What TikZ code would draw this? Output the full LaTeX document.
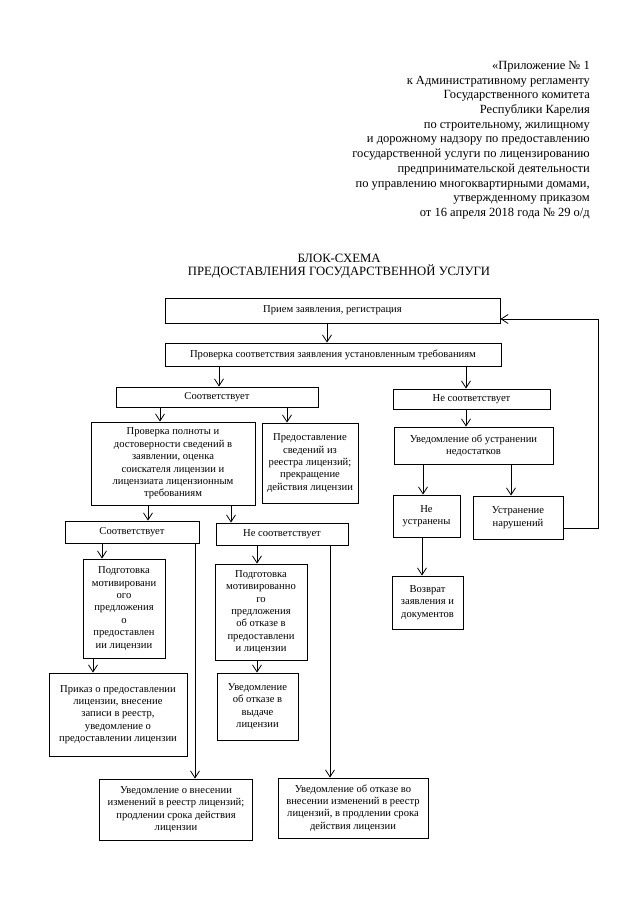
\documentclass[tikz,border=0pt]{standalone}
\usepackage{fontspec}
\setmainfont{Liberation Serif}
\usetikzlibrary{arrows.meta}
\begin{document}
\begin{tikzpicture}[x=1pt,y=-1pt,
    box/.style={draw, line width=0.85pt, align=center, inner sep=1pt,
      font=\fontsize{10.6}{12.4}\selectfont},
    arr/.style={line width=0.8pt, -{Straight Barb[length=7pt,width=9pt]}}]
			\useasboundingbox (0,0) rectangle (639,905);
			
			\node[anchor=north east, align=right, inner sep=0pt,
			  font=\fontsize{12.5}{14.7}\selectfont] (head) at (590,61)
			  {«Приложение № 1\\к Административному регламенту\\Государственного комитета\\Республики Карелия\\по строительному, жилищному\\и дорожному надзору по предоставлению\\государственной услуги по лицензированию\\предпринимательской деятельности\\по управлению многоквартирными домами,\\утвержденному приказом\\от 16 апреля 2018 года № 29 о/д};
			\node[align=center, inner sep=0pt, font=\fontsize{12.7}{13.5}\selectfont] (title) at (339,266)
			  {БЛОК-СХЕМА\\ПРЕДОСТАВЛЕНИЯ ГОСУДАРСТВЕННОЙ УСЛУГИ};
			
			\node[box, minimum width=335pt, minimum height=25pt] (recv) at (332.5,310.5) {Прием заявления, регистрация};
			\node[box, minimum width=336pt, minimum height=23pt] (check) at (333,354.5) {Проверка соответствия заявления установленным требованиям};
			\node[box, minimum width=202pt, minimum height=20pt] (yes1) at (217,397) {Соответствует};
			\node[box, minimum width=157pt, minimum height=20pt] (no1) at (471.5,399) {Не соответствует};
			\node[box, minimum width=164pt, minimum height=83pt] (full) at (173,463.5) {Проверка полноты и\\достоверности сведений в\\заявлении, оценка\\соискателя лицензии и\\лицензиата лицензионным\\требованиям};
			\node[box, minimum width=96pt, minimum height=80pt] (info) at (310,463) {Предоставление\\сведений из\\реестра лицензий;\\прекращение\\действия лицензии};
			\node[box, minimum width=159pt, minimum height=37pt] (notice) at (473.5,445.5) {Уведомление об устранении\\недостатков};
			\node[box, minimum width=67pt, minimum height=42pt] (notfixed) at (426.5,516) {Не\\устранены};
			\node[box, minimum width=90pt, minimum height=43pt] (fixed) at (518,517.5) {Устранение\\нарушений};
			\node[box, minimum width=71pt, minimum height=53pt] (back) at (427.5,602.5) {Возврат\\заявления и\\документов};
			\node[box, minimum width=134pt, minimum height=22pt] (yes2) at (132,532) {Соответствует};
			\node[box, minimum width=132pt, minimum height=22pt] (no2) at (282,534) {Не соответствует};
			\node[box, minimum width=82pt, minimum height=99pt] (prepyes) at (124,608.5) {Подготовка\\мотивировани\\ого\\предложения\\о\\предоставлен\\ии лицензии};
			\node[box, minimum width=138pt, minimum height=83pt] (order) at (118,714.5) {Приказ о предоставлении\\лицензии, внесение\\записи в реестр,\\уведомление о\\предоставлении лицензии};
			\node[box, minimum width=92pt, minimum height=96pt] (prepno) at (261,612) {Подготовка\\мотивированно\\го\\предложения\\об отказе в\\предоставлени\\и лицензии};
			\node[box, minimum width=81pt, minimum height=67pt] (refuse) at (257.5,706.5) {Уведомление\\об отказе в\\выдаче\\лицензии};
			\node[box, minimum width=153pt, minimum height=61pt] (changed) at (176,809.5) {Уведомление о внесении\\изменений в реестр лицензий;\\продлении срока действия\\лицензии};
			\node[box, minimum width=150pt, minimum height=60pt] (unchanged) at (353,808) {Уведомление об отказе во\\внесении изменений в реестр\\лицензий, в продлении срока\\действия лицензии};
			
			\coordinate (loop) at (598,0);
			
			\draw[arr] (recv.south -| 327,0) -- (check.north -| 327,0);
			\draw[arr] (check.south -| 219,0) -- (yes1.north -| 219,0);
			\draw[arr] (check.south -| 466,0) -- (no1.north -| 466,0);
			\draw[arr] (yes1.south -| 160,0) -- (full.north -| 160,0);
			\draw[arr] (yes1.south -| 287,0) -- (info.north -| 287,0);
			\draw[arr] (no1.south -| 466,0) -- (notice.north -| 466,0);
			\draw[arr] (notice.south -| 423,0) -- (notfixed.north -| 423,0);
			\draw[arr] (notice.south -| 511,0) -- (fixed.north -| 511,0);
			\draw[arr] (notfixed.south -| 422,0) -- (back.north -| 422,0);
			\draw[arr] (fixed.east |- 0,528) -- (loop |- 0,528) -- (loop |- 0,319) -- (recv.east |- 0,319);
			\draw[arr] (full.south -| 148,0) -- (yes2.north -| 148,0);
			\draw[arr] (full.south -| 231,0) -- (no2.north -| 231,0);
			\draw[arr] (yes2.south -| 102,0) -- (prepyes.north -| 102,0);
			\draw[arr] (yes2.south -| 195,0) -- (changed.north -| 195,0);
			\draw[arr] (no2.south -| 257,0) -- (prepno.north -| 257,0);
			\draw[arr] (no2.south -| 330,0) -- (unchanged.north -| 330,0);
			\draw[arr] (prepyes.south -| 93,0) -- (order.north -| 93,0);
			\draw[arr] (prepno.south -| 257,0) -- (refuse.north -| 257,0);
		\end{tikzpicture}
\end{document}
